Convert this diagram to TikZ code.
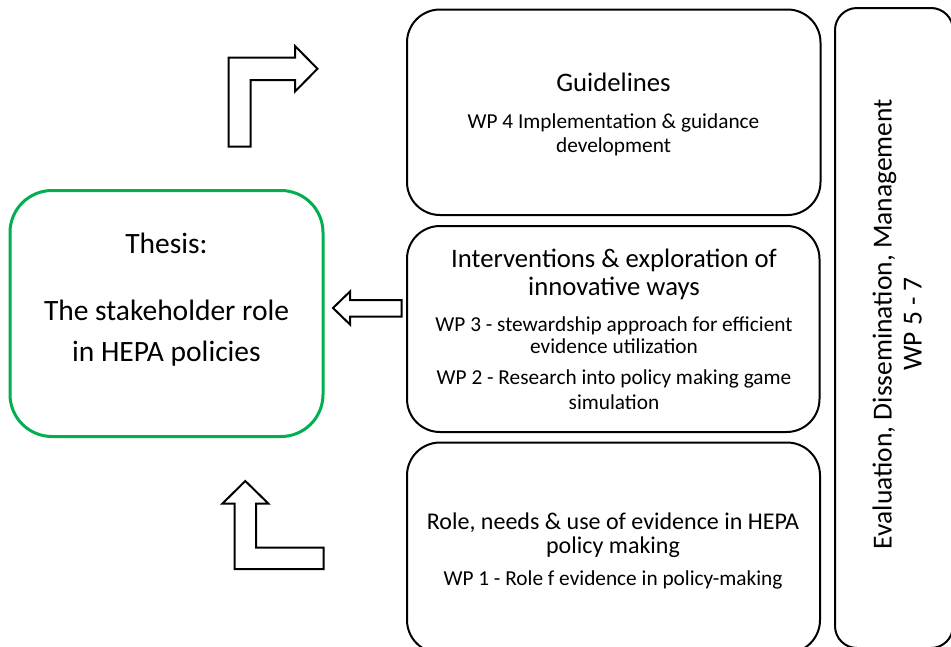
\documentclass[tikz,border=0pt]{standalone}
\usepackage{fontspec}
\setmainfont{Carlito}
\definecolor{thesisgreen}{RGB}{0,176,80}
\begin{document}
\begin{tikzpicture}[x=1pt,y=-1pt,
  wpbox/.style={draw=black, line width=2pt, rounded corners=33pt, fill=white, inner sep=0pt},
  thesisbox/.style={draw=thesisgreen, line width=3pt, rounded corners=42pt, fill=white, inner sep=0pt},
  title/.style={anchor=base, inner sep=0pt, font=\fontsize{26.7}{32}\selectfont},
  smalltitle/.style={anchor=base, inner sep=0pt, font=\fontsize{24}{29}\selectfont},
  sidetitle/.style={anchor=base, inner sep=0pt, font=\fontsize{27.5}{33}\selectfont},
  thesistext/.style={anchor=base, inner sep=0pt, font=\fontsize{29.5}{35}\selectfont},
  wptext/.style={anchor=base, inner sep=0pt, font=\fontsize{21.3}{25}\selectfont},
  blockarrow/.style={draw=black, line width=2pt, fill=white, line join=miter}]
\useasboundingbox (0,0) rectangle (951,646);
\clip (0,0) rectangle (951,646);

% work-package boxes
\node[wpbox, minimum width=413.5pt, minimum height=205.5pt] (guide) at (613.75,112.25) {};
\node[wpbox, minimum width=412.5pt, minimum height=206pt] (interv) at (613.25,329) {};
\node[wpbox, minimum width=413pt, minimum height=210.5pt] (role) at (613.5,547.75) {};
\node[wpbox, rounded corners=22pt, minimum width=118pt, minimum height=640pt] (eval) at (894,328) {};

% thesis box
\node[thesisbox, minimum width=313pt, minimum height=246pt] (thesis) at (166.5,313.5) {};

% texts: guidelines
\node[title] (guideT) at (613.5,91.5) {Guidelines};
\node[wptext] (guideA) at (613.5,128.5) {WP 4 Implementation \& guidance};
\node[wptext] (guideB) at (613.5,152) {development};

% texts: interventions
\node[title] (intervT1) at (614,267) {Interventions \& exploration of};
\node[title] (intervT2) at (614,295) {innovative ways};
\node[wptext] (intervA1) at (614,331.5) {WP 3 - stewardship approach for efficient};
\node[wptext] (intervA2) at (614,353.5) {evidence utilization};
\node[wptext] (intervB1) at (614,384) {WP 2 - Research into policy making game};
\node[wptext] (intervB2) at (614,409) {simulation};

% texts: role of evidence
\node[smalltitle] (roleT1) at (613,529) {Role, needs \& use of evidence in HEPA};
\node[smalltitle] (roleT2) at (613,553) {policy making};
\node[wptext] (roleA) at (613,585) {WP 1 - Role f evidence in policy-making};

% texts: thesis
\node[thesistext] (thesisT) at (166.5,253.5) {Thesis:};
\node[thesistext] (thesisA) at (166.5,320) {The stakeholder role};
\node[thesistext] (thesisB) at (166.5,361.5) {in HEPA policies};

% vertical texts
\node[sidetitle, rotate=90] (evalA) at (891.5,324) {Evaluation, Dissemination, Management};
\node[sidetitle, rotate=90] (evalB) at (921.5,324) {WP 5 - 7};

% block arrows
\draw[blockarrow] (228.5,146.5) -- (228.5,57.5) -- (295,57.5) -- (295,46)
  -- (317.5,68.75) -- (295,91.5) -- (295,80) -- (250.5,80) -- (250.5,146.5) -- cycle;
\draw[blockarrow] (245.3,481) -- (268.3,503.5) -- (256,503.5) -- (256,547.5)
  -- (323.5,547.5) -- (323.5,569) -- (234.5,569) -- (234.5,503.5) -- (222.5,503.5) -- cycle;
\draw[blockarrow] (333,308) -- (350,291.5) -- (350,300) -- (401.5,300)
  -- (401.5,316.5) -- (350,316.5) -- (350,324.5) -- cycle;
\end{tikzpicture}
\end{document}
